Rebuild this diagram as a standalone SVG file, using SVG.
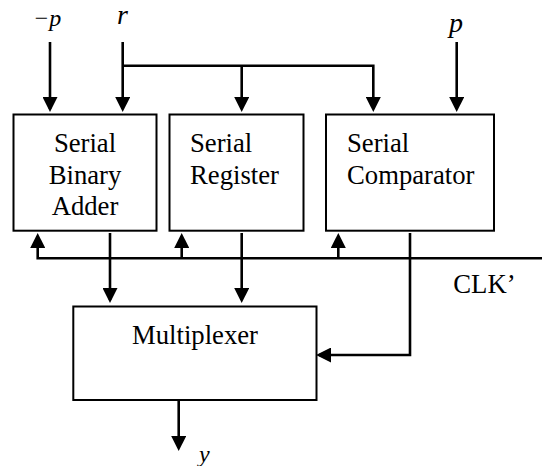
<svg xmlns="http://www.w3.org/2000/svg" width="542" height="466" viewBox="0 0 542 466">
<style>
.box{fill:#fff;stroke:#000;stroke-width:2}
.w{fill:none;stroke:#000;stroke-width:2.6}
.t{font-family:"Liberation Serif","Times New Roman",serif;font-size:26.7px;fill:#000}
.i{font-family:"Liberation Serif","Times New Roman",serif;font-style:italic;fill:#000}
</style>
<defs>
<marker id="ah" markerUnits="userSpaceOnUse" markerWidth="15" markerHeight="15" refX="12" refY="7.5" orient="auto" viewBox="0 0 15 15">
<path d="M0,0 L15,7.5 L0,15 z" fill="#000"/>
</marker>
</defs>
<g id="connectors">
<line class="w" x1="50" y1="42" x2="50" y2="109" marker-end="url(#ah)"/>
<line class="w" x1="122.7" y1="42" x2="122.7" y2="109" marker-end="url(#ah)"/>
<polyline class="w" points="122.7,65.7 373.3,65.7 373.3,109" marker-end="url(#ah)"/>
<line class="w" x1="241.7" y1="65.7" x2="241.7" y2="109" marker-end="url(#ah)"/>
<line class="w" x1="456.7" y1="42" x2="456.7" y2="109" marker-end="url(#ah)"/>
<polyline class="w" points="542,258.3 37.7,258.3 37.7,236" marker-end="url(#ah)"/>
<line class="w" x1="181.7" y1="258.3" x2="181.7" y2="236" marker-end="url(#ah)"/>
<line class="w" x1="338.3" y1="258.3" x2="338.3" y2="236" marker-end="url(#ah)"/>
<line class="w" x1="110" y1="233" x2="110" y2="300" marker-end="url(#ah)"/>
<line class="w" x1="241.7" y1="233" x2="241.7" y2="300" marker-end="url(#ah)"/>
<polyline class="w" points="410,233 410,355 319,355" marker-end="url(#ah)"/>
<line class="w" x1="178.7" y1="400" x2="178.7" y2="448" marker-end="url(#ah)"/>
</g>
<g id="adder">
<rect class="box" x="13.5" y="114.5" width="143" height="116.2"/>
<text class="t" x="85" y="152" text-anchor="middle">Serial</text>
<text class="t" x="85" y="183.6" text-anchor="middle">Binary</text>
<text class="t" x="85" y="215.2" text-anchor="middle">Adder</text>
</g>
<g id="register">
<rect class="box" x="169.5" y="114.5" width="134" height="116.2"/>
<text class="t" x="190" y="152">Serial</text>
<text class="t" x="190" y="183.6">Register</text>
</g>
<g id="comparator">
<rect class="box" x="326" y="114.5" width="168" height="116.2"/>
<text class="t" x="347" y="152">Serial</text>
<text class="t" x="347" y="183.6">Comparator</text>
</g>
<g id="multiplexer">
<rect class="box" x="73.3" y="306.5" width="243.2" height="93.5"/>
<text class="t" x="195" y="344" text-anchor="middle">Multiplexer</text>
</g>
<g id="labels">
<text class="i" x="33" y="26" font-size="24">−p</text>
<text class="i" x="117" y="24" font-size="28">r</text>
<text class="i" x="449" y="32" font-size="28">p</text>
<text class="t" x="453.3" y="292.7">CLK’</text>
<text class="i" x="199" y="461.7" font-size="24">y</text>
</g>
</svg>
